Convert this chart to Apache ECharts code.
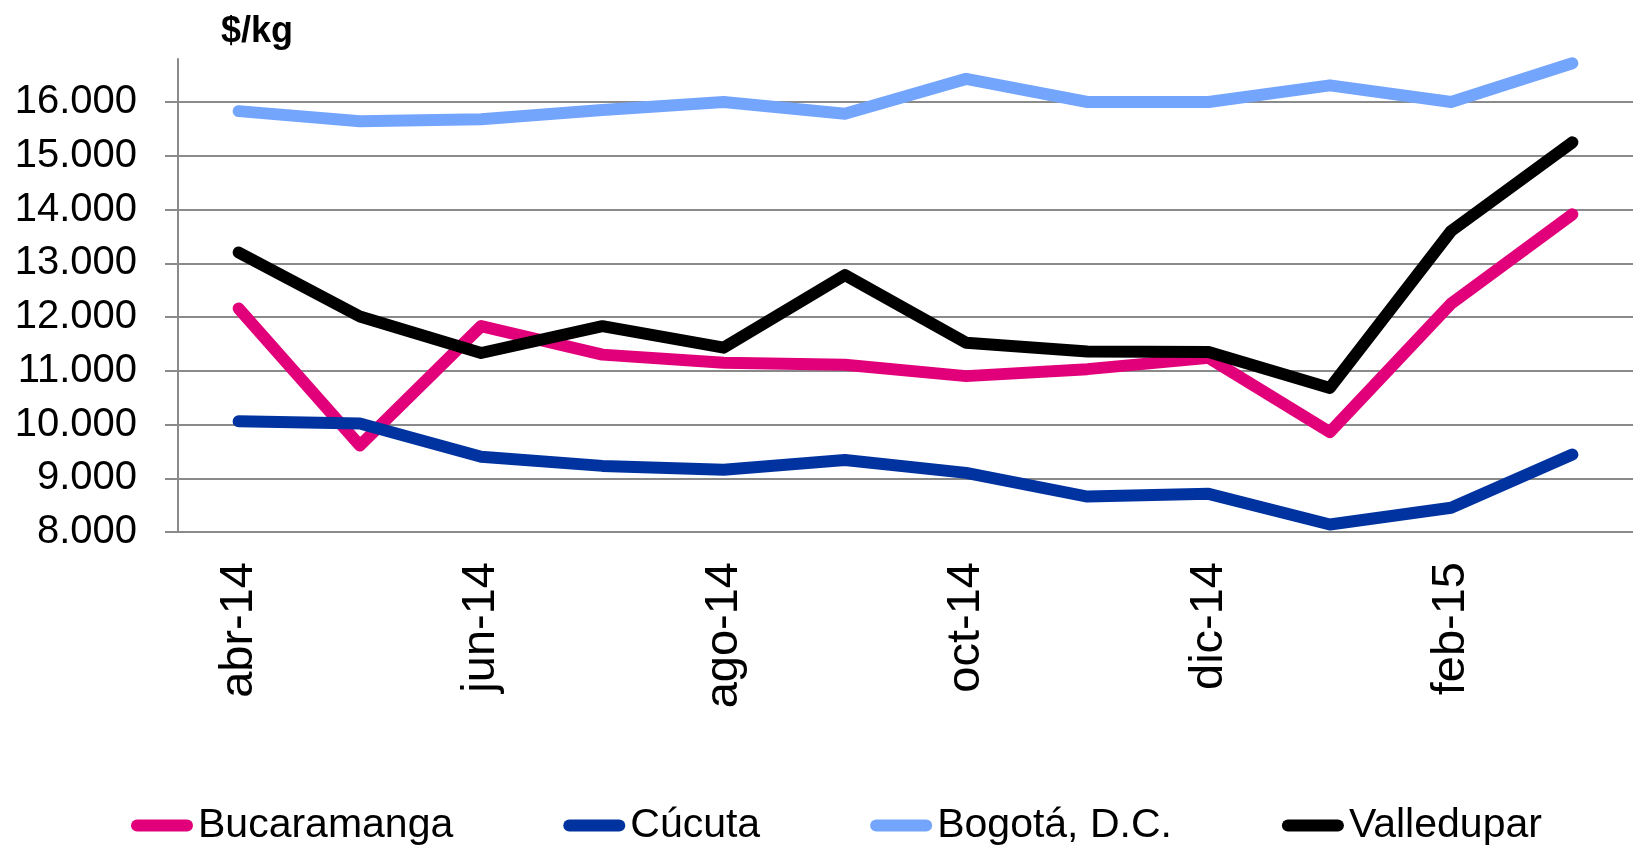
<!DOCTYPE html>
<html>
<head>
<meta charset="utf-8">
<script src="https://cdn.jsdelivr.net/npm/echarts@6/dist/echarts.min.js"></script>
<style>
  html, body { margin: 0; padding: 0; background: #fff; }
  #chart { width: 1633px; height: 845px; }
</style>
</head>
<body>
<div id="chart"></div>
<script>
// months, abr-14 .. mar-15
var months = ['abr-14', 'may-14', 'jun-14', 'jul-14', 'ago-14', 'sep-14',
  'oct-14', 'nov-14', 'dic-14', 'ene-15', 'feb-15', 'mar-15'];

var bucaramanga = [12160, 9610, 11830, 11300, 11150, 11110, 10900, 11030, 11240, 9860, 12250, 13910];
var cucuta = [10060, 10020, 9400, 9230, 9160, 9340, 9100, 8660, 8710, 8140, 8450, 9440];
var bogota = [15830, 15640, 15680, 15850, 16000, 15780, 16430, 16000, 16000, 16310, 16000, 16720];
var valledupar = [13200, 12010, 11330, 11830, 11430, 12780, 11520, 11360, 11350, 10680, 13600, 15250];

var yTicks = [8000, 9000, 10000, 11000, 12000, 13000, 14000, 15000, 16000];

function fmt(v) {
  return String(v).replace(/\B(?=(\d{3})+(?!\d))/g, '.');
}

function line(name, data, color) {
  return {
    name: name,
    type: 'line',
    data: data,
    symbol: 'none',
    lineStyle: { color: color, width: 12, cap: 'round', join: 'round' },
    itemStyle: { color: color },
    emphasis: { disabled: true }
  };
}

// pill shaped legend icon
var pill = 'path://M6,0 H56 A6,6 0 0 1 56,12 H6 A6,6 0 0 1 6,0 Z';

var myChart = echarts.init(document.getElementById('chart'));
var option = {
  backgroundColor: '#fff',
  animation: false,
  textStyle: { fontFamily: 'Liberation Sans, Arial, sans-serif' },
  title: {
    text: '$/kg',
    left: 216,
    top: 9,
    textStyle: { fontSize: 36, fontWeight: 'bold', color: '#000', fontFamily: 'Liberation Sans, Arial, sans-serif' }
  },
  grid: { left: 178, top: 59, width: 1469, bottom: 313, containLabel: false },
  legend: {
    left: 126,
    top: 800,
    icon: pill,
    itemWidth: 62,
    itemHeight: 12,
    itemGap: 110,
    textStyle: { fontSize: 41, color: '#000' },
    data: ['Bucaramanga', 'Cúcuta', 'Bogotá, D.C.', 'Valledupar']
  },
  xAxis: {
    type: 'category',
    data: months,
    boundaryGap: true,
    axisLine: { lineStyle: { color: '#8a8a8a', width: 2 } },
    axisTick: { show: false },
    axisLabel: {
      interval: 1,
      rotate: 90,
      margin: 30,
      fontSize: 47,
      color: '#000'
    }
  },
  yAxis: {
    type: 'value',
    min: 8000,
    max: 16800,
    interval: 1000,
    axisLine: { show: true, lineStyle: { color: '#8a8a8a', width: 2 } },
    axisTick: { show: true, length: 13, customValues: yTicks, lineStyle: { color: '#8a8a8a', width: 2 } },
    axisLabel: {
      customValues: yTicks,
      margin: 41,
      fontSize: 40,
      color: '#000',
      formatter: fmt
    },
    splitLine: { show: true, lineStyle: { color: '#8a8a8a', width: 2 } }
  },
  series: [
    line('Bucaramanga', bucaramanga, '#e2007a'),
    line('Cúcuta', cucuta, '#0033a0'),
    line('Bogotá, D.C.', bogota, '#74a5fd'),
    line('Valledupar', valledupar, '#000000')
  ]
};
myChart.setOption(option);
</script>
</body>
</html>
